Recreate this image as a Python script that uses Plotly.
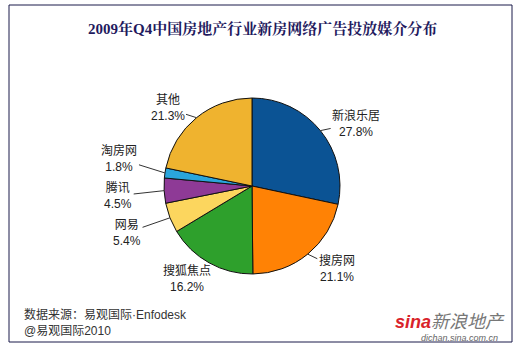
import math
import plotly.graph_objects as go

labels = ["新浪乐居", "搜房网", "搜狐焦点", "网易", "腾讯", "淘房网", "其他"]
values = [27.8, 21.1, 16.2, 5.4, 4.5, 1.8, 21.3]
colors = ["#0B5394", "#FF8205", "#2EA02C", "#FCD65E", "#8E3A96", "#2AA5DC", "#EFB32F"]

W, H = 515, 351
cx, cy, r = 252, 186, 88
lab_rx = 134                          # horizontal label radius (px)
lab_ry_top, lab_ry_bot = 100, 106     # vertical label radius above / below centre (px)
min_gap = 37                          # min vertical distance between label centres on one side

fig = go.Figure()
fig.add_trace(go.Pie(
    labels=labels, values=values, sort=False, direction="clockwise", rotation=0,
    marker=dict(colors=colors, line=dict(color="#111111", width=1)),
    textinfo="none", showlegend=False, hoverinfo="skip",
    domain=dict(x=[(cx - r) / W, (cx + r) / W], y=[1 - (cy + r) / H, 1 - (cy - r) / H]),
))

# label placement derived from slice mid-angles, with simple vertical de-collision
total = sum(values)
cum = 0.0
items = []
for lab, v in zip(labels, values):
    th = 2 * math.pi * (cum + v / 2) / total
    cum += v
    s, c = math.sin(th), math.cos(th)
    ry = lab_ry_top if c > 0 else lab_ry_bot
    items.append(dict(lab=lab, v=v, s=s, c=c,
                      ex=cx + r * s, ey=cy - r * c,
                      lx=cx + lab_rx * s, ly=cy - ry * c))

for side in (1, -1):
    grp = sorted([it for it in items if it["s"] * side > 0], key=lambda it: it["ly"])
    for _ in range(50):
        for a, b in zip(grp, grp[1:]):
            gap = b["ly"] - a["ly"]
            if gap < min_gap:
                d = (min_gap - gap) / 2
                a["ly"] -= d
                b["ly"] += d

lab_font = dict(family="Liberation Sans, Noto Sans CJK SC", size=12, color="#222222")
annotations = []
for it in items:
    annotations.append(dict(
        text=f"{it['lab']}<br>{it['v']:.1f}%", x=it["ex"] / W, y=1 - it["ey"] / H,
        xref="paper", yref="paper",
        ax=it["lx"] - it["ex"], ay=it["ly"] - it["ey"], axref="pixel", ayref="pixel",
        showarrow=True, arrowhead=0, arrowwidth=1, arrowcolor="#333333", standoff=0,
        font=lab_font, align="center"))

annotations += [
    dict(text="<b>2009年Q4中国房地产行业新房网络广告投放媒介分布</b>", x=262 / W, y=1 - 28 / H,
         xref="paper", yref="paper", showarrow=False, xanchor="center", yanchor="middle",
         font=dict(family="Liberation Serif, Noto Serif CJK SC, Noto Sans CJK SC", size=15, color="#1F1A5E")),
    dict(text="数据来源：易观国际·Enfodesk", x=22 / W, y=1 - 314 / H, xref="paper", yref="paper",
         showarrow=False, xanchor="left", yanchor="middle",
         font=dict(family="Liberation Sans, Noto Sans CJK SC", size=12, color="#333333")),
    dict(text="@易观国际2010", x=22 / W, y=1 - 331 / H, xref="paper", yref="paper",
         showarrow=False, xanchor="left", yanchor="middle",
         font=dict(family="Liberation Sans, Noto Sans CJK SC", size=12, color="#333333")),
    dict(text="<b><i><span style='color:#D9232A'>sina</span></i></b><i>新浪地产</i>", x=507 / W, y=1 - 322 / H,
         xref="paper", yref="paper", showarrow=False, xanchor="right", yanchor="middle",
         font=dict(family="Liberation Sans, Noto Sans CJK SC", size=18, color="#777777")),
    dict(text="<i>dichan.sina.com.cn</i>", x=500 / W, y=1 - 338 / H, xref="paper", yref="paper",
         showarrow=False, xanchor="right", yanchor="middle",
         font=dict(family="Liberation Sans", size=9, color="#666666")),
]

fig.update_layout(
    width=W, height=H, margin=dict(l=0, r=0, t=0, b=0),
    paper_bgcolor="white", plot_bgcolor="white",
    shapes=[dict(type="rect", xref="paper", yref="paper",
                 x0=9 / W, x1=512 / W, y0=1 - 342 / H, y1=1 - 5 / H,
                 line=dict(color="#1a1a4a", width=1))],
    annotations=annotations,
)

fig.write_html("out.html")
